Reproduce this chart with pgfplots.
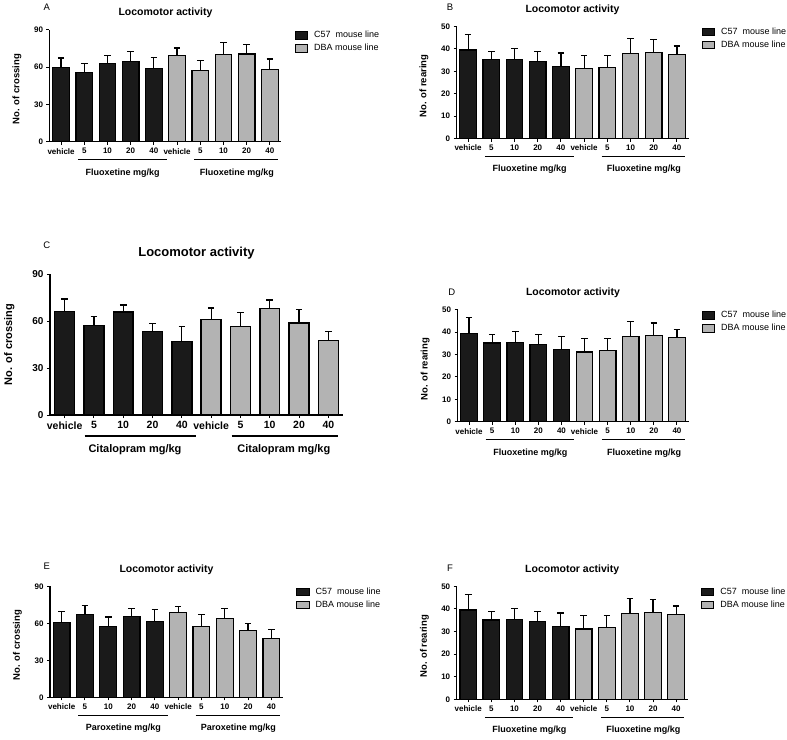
\documentclass[border=0pt]{standalone}
\usepackage{fontspec}
\setmainfont{Liberation Sans}
\usepackage{pgfplots}
\usepackage{pgfplotstable}
\pgfplotsset{compat=1.18}
\definecolor{c57}{HTML}{1A1A1A}
\definecolor{dba}{HTML}{B3B3B3}

\pgfplotstableread{
x y e
0 59.7 7.5
1 55.6 7.0
2 62.9 6.2
3 64.5 8.1
4 58.6 8.9
}\Ac
\pgfplotstableread{
x y e
5 69.1 6.2
6 57.5 7.8
7 70.2 9.4
8 70.4 7.6
9 57.8 8.6
}\Ad
\pgfplotstableread{
x y e
0 39.5 6.9
1 35.1 3.8
2 35.4 4.8
3 34.5 4.4
4 32.2 6.0
}\Bc
\pgfplotstableread{
x y e
5 31.1 6.0
6 31.7 5.4
7 38.0 6.7
8 38.5 5.6
9 37.6 3.7
}\Bd
\pgfplotstableread{
x y e
0 66.1 8.1
1 57.2 5.9
2 65.9 4.5
3 53.5 5.1
4 47.1 9.4
}\Cc
\pgfplotstableread{
x y e
5 61.0 7.5
6 56.7 9.0
7 68.0 5.6
8 58.9 8.7
9 47.8 5.5
}\Cd
\pgfplotstableread{
x y e
0 60.6 8.7
1 67.4 7.2
2 57.4 7.8
3 65.8 6.4
4 61.4 9.5
}\Ec
\pgfplotstableread{
x y e
5 69.0 4.8
6 57.7 9.7
7 63.6 8.6
8 54.2 5.6
9 47.7 7.5
}\Ed

\pgfplotsset{
 gp/.style={
  scale only axis, anchor=south west,
  xmin=-0.5, xmax=9.5, ymin=0,
  axis x line*=bottom, axis y line*=left,
  axis line style={line width=1.3pt, black},
  tick align=outside, major tick length=3pt,
  tick style={line width=1pt, black},
  xtick={0,...,9},
  xticklabels={vehicle,5,10,20,40,vehicle,5,10,20,40},
  /pgf/number format/assume math mode=true,
  clip=false,
  legend image code/.code={\draw[##1] (0pt,-3.6pt) rectangle (12.5pt,3.6pt);},
  legend style={draw=none, fill=none, at={(rel axis cs:1,1)}, anchor=north west,
    xshift=10pt, yshift=1pt, font=\fontsize{9}{10}\selectfont,
    nodes={inner sep=0pt, text height=7pt, text depth=2pt}, row sep=4pt,
    /tikz/every odd column/.append style={column sep=6pt}},
  legend cell align=left,
  every axis title/.style={at={(axis description cs:0.5,1)}, anchor=center},
 },
 small/.style={
  ticklabel style={font=\bfseries\fontsize{8}{9}\selectfont},
  title style={font=\bfseries\fontsize{10.5}{12}\selectfont, yshift=17pt},
  every axis y label/.style={at={(axis description cs:-0.14,0.47)}, rotate=90, anchor=center,
    font=\bfseries\fontsize{9.5}{11}\selectfont},
 },
 bars/.style={ybar, bar width=0.72, bar shift=0pt, draw=black, line width=1.2pt, forget plot,
  error bars/y dir=plus, error bars/y explicit,
  error bars/error bar style={line width=1.2pt, black},
  error bars/error mark options={rotate=90, mark size=3.3pt, line width=1.2pt, black}},
}
\newcommand{\groups}[2]{%
  \draw[line width=1.3pt] ([yshift=-18pt]axis cs:0.72,0) -- ([yshift=-18pt]axis cs:4.55,0);
  \draw[line width=1.3pt] ([yshift=-18pt]axis cs:5.75,0) -- ([yshift=-18pt]axis cs:9.35,0);
  \node[font=\bfseries\fontsize{9}{10}\selectfont] at ([yshift=-31pt]axis cs:2.65,0) {#1};
  \node[font=\bfseries\fontsize{9}{10}\selectfont] at ([yshift=-31pt]axis cs:7.58,0) {#2};
}
\newcommand{\leg}{%
  \addlegendimage{fill=c57, draw=black, line width=1pt}
  \addlegendentry{C57\ \ mouse line}
  \addlegendimage{fill=dba, draw=black, line width=1pt}
  \addlegendentry{DBA mouse line}
}

\begin{document}
\begin{tikzpicture}
\path[use as bounding box] (0,0) rectangle (787pt,-739pt);

% A
\begin{axis}[gp, small, at={(49.5pt,-141.7pt)}, width=232pt, height=112pt,
  ymax=90, ytick={0,30,60,90}, title={Locomotor activity}, ylabel={No. of crossing}]
\leg
\addplot[bars, fill=c57] table[x=x, y=y, y error=e] {\Ac};
\addplot[bars, fill=dba] table[x=x, y=y, y error=e] {\Ad};
\groups{Fluoxetine mg/kg}{Fluoxetine mg/kg}
\end{axis}

% B
\begin{axis}[gp, small, at={(456.5pt,-138.5pt)}, width=232pt, height=112pt,
  ymax=50, ytick={0,10,...,50}, title={Locomotor activity}, ylabel={No. of rearing}]
\leg
\addplot[bars, fill=c57] table[x=x, y=y, y error=e] {\Bc};
\addplot[bars, fill=dba] table[x=x, y=y, y error=e] {\Bd};
\groups{Fluoxetine mg/kg}{Fluoxetine mg/kg}
\end{axis}

% C
\begin{axis}[gp, at={(50pt,-415pt)}, width=293pt, height=140.7pt,
  ymax=90, ytick={0,30,60,90}, title={Locomotor activity}, ylabel={No. of crossing},
  ticklabel style={font=\bfseries\fontsize{10}{12}\selectfont},
  xticklabel style={font=\bfseries\fontsize{10.5}{12}\selectfont},
  title style={font=\bfseries\fontsize{13}{15}\selectfont, yshift=21.6pt},
  every axis y label/.style={at={(axis description cs:-0.139,0.5)}, rotate=90, anchor=center,
    font=\bfseries\fontsize{11}{13}\selectfont},
  axis line style={line width=1.5pt}]
\addplot[bars, bar width=0.68, line width=1.5pt, fill=c57] table[x=x, y=y, y error=e] {\Cc};
\addplot[bars, bar width=0.68, line width=1.5pt, fill=dba] table[x=x, y=y, y error=e] {\Cd};
\draw[line width=1.6pt] ([yshift=-21pt]axis cs:0.68,0) -- ([yshift=-21pt]axis cs:4.48,0);
\draw[line width=1.6pt] ([yshift=-21pt]axis cs:5.7,0) -- ([yshift=-21pt]axis cs:9.32,0);
\node[font=\bfseries\fontsize{11}{13}\selectfont] at ([yshift=-35pt]axis cs:2.4,0) {Citalopram mg/kg};
\node[font=\bfseries\fontsize{11}{13}\selectfont] at ([yshift=-35pt]axis cs:7.48,0) {Citalopram mg/kg};
\end{axis}

% D
\begin{axis}[gp, small, at={(457.5pt,-421.7pt)}, width=231pt, height=112pt,
  ymax=50, ytick={0,10,...,50}, title={Locomotor activity}, ylabel={No. of rearing}]
\leg
\addplot[bars, fill=c57] table[x=x, y=y, y error=e] {\Bc};
\addplot[bars, fill=dba] table[x=x, y=y, y error=e] {\Bd};
\groups{Fluoxetine mg/kg}{Fluoxetine mg/kg}
\end{axis}

% E
\begin{axis}[gp, small, at={(50pt,-697.3pt)}, width=233pt, height=111pt,
  ymax=90, ytick={0,30,60,90}, title={Locomotor activity}, ylabel={No. of crossing}]
\leg
\addplot[bars, fill=c57] table[x=x, y=y, y error=e] {\Ec};
\addplot[bars, fill=dba] table[x=x, y=y, y error=e] {\Ed};
\groups{Paroxetine mg/kg}{Paroxetine mg/kg}
\end{axis}

% F
\begin{axis}[gp, small, at={(456.7pt,-699.3pt)}, width=231pt, height=113pt,
  ymax=50, ytick={0,10,...,50}, title={Locomotor activity}, ylabel={No. of rearing}]
\leg
\addplot[bars, fill=c57] table[x=x, y=y, y error=e] {\Bc};
\addplot[bars, fill=dba] table[x=x, y=y, y error=e] {\Bd};
\groups{Fluoxetine mg/kg}{Fluoxetine mg/kg}
\end{axis}

% panel letters
\begin{scope}[every node/.style={font=\fontsize{9.5}{11}\selectfont, anchor=center}]
\node at (46.7pt,-7.3pt) {A};
\node at (450pt,-7.3pt) {B};
\node at (46.7pt,-245pt) {C};
\node at (451.7pt,-292.7pt) {D};
\node at (46.7pt,-566.7pt) {E};
\node at (450pt,-568.3pt) {F};
\end{scope}
\end{tikzpicture}
\end{document}
